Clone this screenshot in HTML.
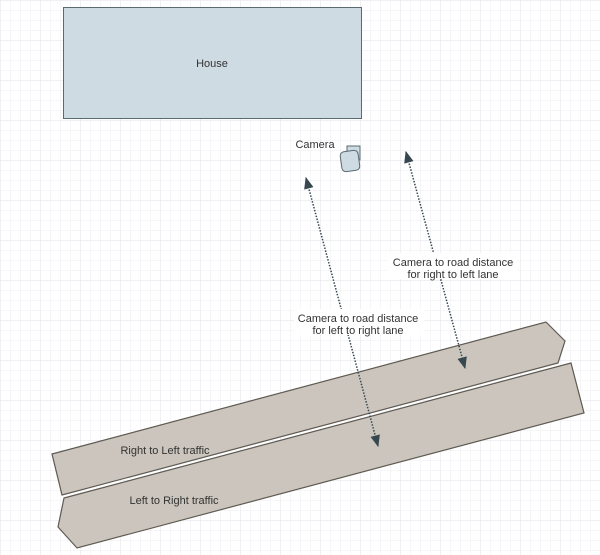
<!DOCTYPE html>
<html><head><style>
body{margin:0;background:#fff;}
svg{display:block;}
text{font-family:"Liberation Sans",sans-serif;font-size:11px;fill:#333;}
</style></head><body>
<svg width="600" height="555" viewBox="0 0 600 555">
<defs>
<pattern id="g" width="10" height="10" patternUnits="userSpaceOnUse"><path d="M10 0H0V10" fill="none" stroke="#eeeef3" stroke-width="1"/></pattern>
<pattern id="G" width="40" height="40" patternUnits="userSpaceOnUse"><rect width="40" height="40" fill="url(#g)"/><path d="M40 0H0V40" fill="none" stroke="#e2e2ea" stroke-width="1"/></pattern>
<marker id="a" viewBox="0 0 10 10" refX="9" refY="5" markerWidth="8" markerHeight="8" orient="auto-start-reverse"><path d="M0 1L10 5L0 9z" fill="#37474f"/></marker>
</defs>
<rect width="600" height="555" fill="url(#G)"/>
<rect x="63.5" y="7.5" width="298" height="111" fill="#cfdbe2" stroke="#5a6a72"/>
<text x="212" y="67" text-anchor="middle">House</text>
<text x="315" y="148" text-anchor="middle">Camera</text>
<rect x="347" y="146" width="13" height="14" fill="#cfdbe2" stroke="#5a6a72"/>
<rect x="341" y="151" width="18" height="20" rx="4" fill="#cfdbe2" stroke="#5a6a72" transform="rotate(-8 350 161)"/>
<polygon points="52,454 546,322 565,341 558,363 62,495" fill="#cbc5bd" stroke="#5e5a52" stroke-width="1.2"/>
<polygon points="64,498 571,363 584,413 77,548 58,527" fill="#cbc5bd" stroke="#5e5a52" stroke-width="1.2"/>
<text x="165" y="454" text-anchor="middle">Right to Left traffic</text>
<text x="174" y="504" text-anchor="middle">Left to Right traffic</text>
<line x1="306" y1="178" x2="378" y2="446" stroke="#37474f" stroke-width="1.5" stroke-dasharray="1.5,1.5" marker-start="url(#a)" marker-end="url(#a)"/>
<line x1="406" y1="152" x2="465" y2="368" stroke="#37474f" stroke-width="1.5" stroke-dasharray="1.5,1.5" marker-start="url(#a)" marker-end="url(#a)"/>
<rect x="388" y="253" width="130" height="26" fill="#fff"/>
<text x="453" y="266" text-anchor="middle">Camera to road distance</text>
<text x="453" y="278" text-anchor="middle">for right to left lane</text>
<rect x="294" y="309" width="130" height="26" fill="#fff"/>
<text x="358" y="322" text-anchor="middle">Camera to road distance</text>
<text x="358" y="334" text-anchor="middle">for left to right lane</text>
</svg>
</body></html>
